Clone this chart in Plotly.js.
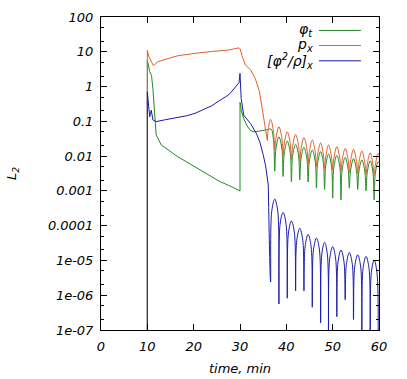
<!DOCTYPE html>
<html>
<head>
<meta charset="utf-8">
<script src="https://cdn.plot.ly/plotly-3.0.1.min.js"></script>
<style>
  body { margin: 0; background: white; }
  #chart { width: 407px; height: 379px; }
</style>
</head>
<body>
<div id="chart"></div>
<script>
// values (time in min, L2 norm)
var tPhi = [10, 10, 10.5, 10.9, 11.2, 11.6, 11.9, 13.0, 14.5, 16.6, 18.5, 20.3, 22.0, 23.9, 25.5, 27.5, 30.0, 30.0, 30.3, 30.8,
  31.5, 32.2, 33.0, 34.0, 35.0, 36.0, 36.7, 37.25,
  37.5, 37.75, 38.4, 39.05, 39.3, 39.55, 40.2, 40.85, 41.1, 41.35, 42.0, 42.65, 42.9, 43.15, 43.8, 44.45,
  44.7, 44.95, 45.6, 46.25, 46.5, 46.75, 47.4, 48.0, 48.25, 48.5, 49.1, 49.75, 50.0, 50.25, 50.9, 51.55,
  51.8, 52.05, 52.7, 53.35, 53.6, 53.85, 54.5, 55.15, 55.4, 55.65, 56.3, 56.95, 57.2, 57.45, 58.1, 58.7,
  58.95, 59.2, 59.8, 60.0];
var phiT = [1e-8, 5.8, 2.7, 2.1, 0.89, 0.19, 0.041, 0.021, 0.015, 0.0095, 0.0068, 0.0049, 0.0035, 0.0025, 0.0019, 0.00145, 0.001, 0.35, 0.2, 0.12,
  0.075, 0.055, 0.05, 0.052, 0.055, 0.058, 0.06, 0.027,
  0.0037, 0.016, 0.036, 0.016, 0.0026, 0.012, 0.027, 0.012, 0.0018, 0.0099, 0.022, 0.0099, 0.0021, 0.0081, 0.018, 0.0081,
  0.0018, 0.0068, 0.015, 0.0068, 0.0012, 0.0061, 0.0135, 0.0061, 0.0011, 0.0052, 0.0115, 0.0052, 0.00062, 0.0047, 0.0105, 0.0047,
  0.00055, 0.0041, 0.0092, 0.0041, 0.0012, 0.0038, 0.0085, 0.0038, 0.0011, 0.0035, 0.0078, 0.0035, 0.001, 0.0033, 0.0073, 0.0033,
  0.00055, 0.0031, 0.0069, 0.0065];

var tPx = [10, 10, 10.3, 11.3, 12.3, 13.5, 14.5, 16.6, 18.5, 20.3, 24.0, 27.5, 29.8, 30.05, 30.5, 31.2, 32.3, 33.3, 34.2, 34.8,
  35.2, 35.6, 35.9, 36.1, 36.6, 37.2,
  37.5, 37.75, 38.4, 39.05, 39.3, 39.55, 40.2, 40.85, 41.1, 41.35, 42.0, 42.65, 42.9, 43.15, 43.8, 44.45,
  44.7, 44.95, 45.6, 46.25, 46.5, 46.75, 47.4, 48.0, 48.25, 48.5, 49.1, 49.75, 50.0, 50.25, 50.9, 51.55,
  51.8, 52.05, 52.7, 53.35, 53.6, 53.85, 54.5, 55.15, 55.4, 55.65, 56.3, 56.95, 57.2, 57.45, 58.1, 58.7,
  58.95, 59.2, 59.8, 60.0];
var pX = [1e-8, 11, 7.5, 4.0, 5.2, 5.9, 6.4, 7.7, 8.4, 9.0, 10.2, 11.2, 13.0, 12.0, 7.2, 4.1, 3.0, 1.7, 0.71, 0.24,
  0.098, 0.05, 0.028, 0.06, 0.114, 0.055,
  0.015, 0.032, 0.070, 0.032, 0.010, 0.023, 0.050, 0.023, 0.008, 0.019, 0.042, 0.019, 0.0068, 0.0155, 0.034, 0.0155,
  0.0058, 0.013, 0.029, 0.013, 0.005, 0.011, 0.024, 0.011, 0.0043, 0.0095, 0.021, 0.0095, 0.004, 0.0085, 0.0187, 0.0085,
  0.0036, 0.0076, 0.0167, 0.0076, 0.0033, 0.0071, 0.0158, 0.0071, 0.0031, 0.0063, 0.014, 0.0063, 0.0029, 0.0056, 0.0125, 0.0056,
  0.0027, 0.0054, 0.012, 0.011];

var tRho = [10, 10, 10.5, 10.85, 11.2, 11.9, 13.7, 16.6, 18.5, 20.3, 22.0, 23.9, 25.5, 27.5, 28.5, 29.8, 30.0, 30.25, 30.8, 32.3,
  33.6, 34.3, 35.0, 35.5, 36.1,
  36.6, 36.85, 37.5, 38.15, 38.4, 38.65, 39.3, 39.95, 40.2, 40.45, 41.1, 41.75, 42.0, 42.25, 42.9, 43.55,
  43.8, 44.05, 44.7, 45.35, 45.6, 45.85, 46.5, 47.15, 47.4, 47.65, 48.25, 48.85, 49.1, 49.35, 50.0, 50.65,
  50.9, 51.15, 51.8, 52.45, 52.7, 52.95, 53.6, 54.25, 54.5, 54.75, 55.4, 56.05, 56.3, 56.55, 57.2, 57.85,
  58.1, 58.35, 58.95, 59.55, 59.8];
var rhoX = [1e-8, 0.71, 0.135, 0.21, 0.11, 0.098, 0.11, 0.13, 0.145, 0.17, 0.22, 0.28, 0.39, 0.57, 0.8, 1.3, 2.4, 0.46, 0.15, 0.085,
  0.043, 0.025, 0.011, 0.0055, 0.0015,
  2.4e-6, 2.6e-4, 5.8e-4, 2.6e-4, 5.6e-7, 1.1e-4, 2.4e-4, 1.1e-4, 8.2e-7, 6.1e-5, 1.36e-4, 6.1e-5, 1.33e-6, 3.8e-5, 8.4e-5, 3.8e-5,
  1.33e-6, 2.5e-5, 5.6e-5, 2.5e-5, 4.5e-7, 2.0e-5, 4.4e-5, 2.0e-5, 1.6e-7, 1.5e-5, 3.3e-5, 1.5e-5, 5e-8, 1.1e-5, 2.5e-5, 1.1e-5,
  2.4e-7, 9e-6, 2.0e-5, 9e-6, 7.4e-7, 7.6e-6, 1.7e-5, 7.6e-6, 2e-7, 6.5e-6, 1.45e-5, 6.5e-6, 5e-8, 5.8e-6, 1.3e-5, 5.8e-6,
  5e-8, 4.6e-6, 1.03e-5, 4.6e-6, 5e-8];

var names = ['\u03c6<sub>t</sub>', 'p<sub>x</sub>', '[\u03c6<sup>2</sup>/\u03c1]<sub>x</sub>'];
var colors = ['#238b23', '#e0622a', '#1c1caa'];

var xTicks = [0, 10, 20, 30, 40, 50, 60];
var yTickVals = [1e-7, 1e-6, 1e-5, 1e-4, 1e-3, 1e-2, 1e-1, 1, 10, 100];
var yTickText = ['1e-07', '1e-06', '1e-05', '0.0001', '0.001', '0.01', '0.1', '1', '10', '100'];
var yMinor = [2e-7, 5e-7, 2e-6, 5e-6, 2e-5, 5e-5, 2e-4, 5e-4, 2e-3, 5e-3, 0.02, 0.05, 0.2, 0.5, 2, 5, 20, 50];

// the ringing part after ~36 min is drawn smoothed, the rest straight
function pieces(t, v, color) {
    var k = t.findIndex(function (x) { return x >= 35.85; });
    var a = {x: t.slice(0, k + 1), y: v.slice(0, k + 1), mode: 'lines', type: 'scatter',
             line: {color: color, width: 1, shape: 'linear'}, hoverinfo: 'skip'};
    var b = {x: t.slice(k), y: v.slice(k), mode: 'lines', type: 'scatter',
             line: {color: color, width: 1, shape: 'spline', smoothing: 1}, hoverinfo: 'skip'};
    return [a, b];
}

var data = [].concat(
    pieces(tPhi, phiT, colors[0]),
    pieces(tPx, pX, colors[1]),
    pieces(tRho, rhoX, colors[2])
);

var legY = [0.957, 0.909, 0.860];
var annotations = names.map(function (n, i) {
    return {xref: 'paper', yref: 'paper', x: 0.770, y: legY[i], xanchor: 'right', yanchor: 'middle',
            text: n, showarrow: false, font: {size: 14, color: 'black'}};
});
var shapes = names.map(function (n, i) {
    return {type: 'line', xref: 'paper', yref: 'paper', x0: 0.784, x1: 0.935, y0: legY[i], y1: legY[i],
            line: {color: colors[i], width: 1}};
});

var layout = {
    width: 407,
    height: 379,
    margin: {l: 101, r: 28, t: 17, b: 49, pad: 0},
    paper_bgcolor: 'white',
    plot_bgcolor: 'white',
    showlegend: false,
    font: {family: 'DejaVu Sans', size: 13, color: 'black', style: 'italic'},
    xaxis: {
        range: [0, 60],
        tickmode: 'array',
        tickvals: xTicks,
        ticktext: xTicks.map(String),
        ticks: 'inside',
        ticklen: 6,
        tickcolor: 'black',
        ticklabelstandoff: 4,
        showline: true,
        linecolor: 'black',
        linewidth: 1,
        mirror: 'allticks',
        showgrid: false,
        zeroline: false,
        title: {text: 'time, min', standoff: 11, font: {size: 13, color: 'black'}}
    },
    yaxis: {
        type: 'log',
        range: [-7, 2],
        tickmode: 'array',
        tickvals: yTickVals,
        ticktext: yTickText,
        ticks: 'inside',
        ticklen: 6,
        tickcolor: 'black',
        ticklabelstandoff: 4,
        minor: {ticks: 'inside', ticklen: 3, tickcolor: 'black', tickmode: 'array', tickvals: yMinor, showgrid: false},
        showline: true,
        linecolor: 'black',
        linewidth: 1,
        mirror: 'allticks',
        showgrid: false,
        zeroline: false,
        title: {text: 'L<sub>2</sub>', standoff: 28, font: {size: 13, color: 'black'}}
    },
    annotations: annotations,
    shapes: shapes
};

Plotly.newPlot('chart', data, layout, {displayModeBar: false, staticPlot: true});
</script>
</body>
</html>
